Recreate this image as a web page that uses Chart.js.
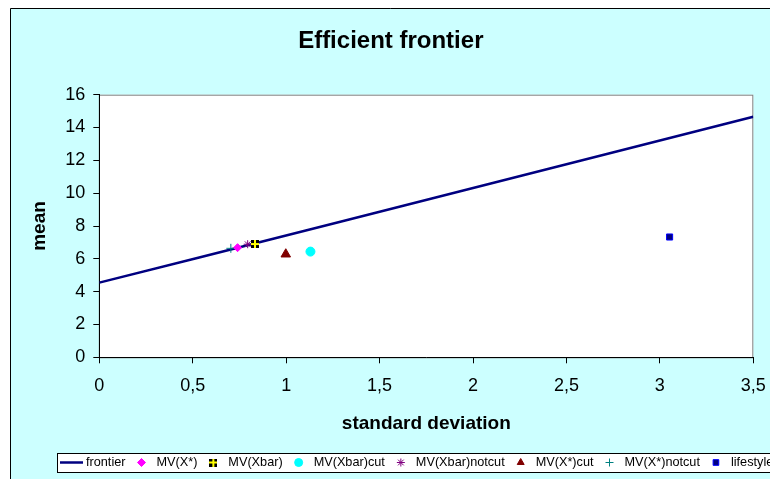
<!DOCTYPE html>
<html>
<head>
<meta charset="utf-8">
<script src="https://cdn.jsdelivr.net/npm/chart.js@4/dist/chart.umd.min.js"></script>
<style>
  html, body { margin: 0; padding: 0; background: #fff; overflow: hidden; }
  #wrap { width: 770px; height: 479px; }
</style>
</head>
<body>
<div id="wrap"><canvas id="frontierChart"></canvas></div>
<script>
// frontier line
const frontierSd = [0, 0.54, 1.29, 3.5];
const frontierMean = [4.55, 6.1, 8.26, 14.66];

// single portfolios
const seriesNames = ['MV(X*)', 'MV(Xbar)', 'MV(Xbar)cut', 'MV(Xbar)notcut', 'MV(X*)cut', 'MV(X*)notcut', 'lifestyle'];
const seriesSd = [0.74, 0.833, 1.13, 0.794, 0.998, 0.704, 3.052];
const seriesMean = [6.68, 6.9, 6.44, 6.89, 6.28, 6.64, 7.33];

// black square with a yellow cross, like the Excel marker
function xbarMarker() {
    const c = document.createElement('canvas');
    c.width = 8; c.height = 8;
    const g = c.getContext('2d');
    g.fillStyle = '#000';
    g.fillRect(0, 0, 8, 8);
    g.fillStyle = '#FFFF00';
    g.fillRect(3, 0, 2, 8);
    g.fillRect(0, 3, 8, 2);
    return c;
}

const markerStyles = [
    { pointStyle: 'rectRot', radius: 4, bg: '#FF00FF', border: '#FF00FF' },
    { pointStyle: xbarMarker(), radius: 4, bg: '#000', border: '#000' },
    { pointStyle: 'circle', radius: 4.5, bg: '#00FFFF', border: '#00FFFF' },
    { pointStyle: 'star', radius: 4, bg: '#CC99FF', border: '#800080' },
    { pointStyle: 'triangle', radius: 5.5, bg: '#800000', border: '#800000' },
    { pointStyle: 'cross', radius: 4.5, bg: '#008080', border: '#008080' },
    { pointStyle: 'rect', radius: 4.3, bg: '#000080', border: '#0000FF' }
];

const datasets = [{
    label: 'frontier',
    data: frontierSd.map((x, i) => ({ x: x, y: frontierMean[i] })),
    showLine: true,
    borderColor: '#000080',
    backgroundColor: '#000080',
    borderWidth: 2.5,
    pointRadius: 0,
    order: 1
}];
seriesNames.forEach((name, i) => {
    const s = markerStyles[i];
    datasets.push({
        label: name,
        data: [{ x: seriesSd[i], y: seriesMean[i] }],
        pointStyle: s.pointStyle,
        pointRadius: s.radius,
        pointHoverRadius: s.radius,
        backgroundColor: s.bg,
        borderColor: s.border,
        borderWidth: 1,
        order: 0
    });
});

const backdrop = {
    id: 'backdrop',
    beforeDraw(chart) {
        const ctx = chart.ctx, a = chart.chartArea;
        ctx.save();
        ctx.fillStyle = '#fff';
        ctx.fillRect(0, 0, chart.width, chart.height);
        ctx.fillStyle = '#CCFFFF';
        ctx.fillRect(10, 8, chart.width, chart.height);
        ctx.strokeStyle = '#000';
        ctx.lineWidth = 1;
        ctx.beginPath();
        ctx.moveTo(10.5, chart.height);
        ctx.lineTo(10.5, 8.5);
        ctx.lineTo(chart.width, 8.5);
        ctx.stroke();
        ctx.fillStyle = '#fff';
        ctx.fillRect(a.left, a.top, a.right - a.left, a.bottom - a.top);
        ctx.strokeStyle = '#808080';
        ctx.strokeRect(a.left, a.top + 0.5, a.right - a.left - 0.5, a.bottom - a.top);
        ctx.restore();
    }
};

const boxLegend = {
    id: 'boxLegend',
    afterDraw(chart) {
        const ctx = chart.ctx;
        const cy = 462.5;
        ctx.save();
        ctx.fillStyle = '#fff';
        ctx.fillRect(57, 453, 760, 19);
        ctx.strokeStyle = '#000';
        ctx.lineWidth = 1;
        ctx.strokeRect(57.5, 453.5, 760, 19);
        ctx.font = '12.7px "Liberation Sans", Arial, sans-serif';
        ctx.textBaseline = 'middle';
        ctx.textAlign = 'left';
        let x = 60;
        chart.data.datasets.forEach((ds) => {
            if (ds.showLine) {
                ctx.strokeStyle = ds.borderColor;
                ctx.lineWidth = ds.borderWidth;
                ctx.beginPath();
                ctx.moveTo(x, cy);
                ctx.lineTo(x + 23, cy);
                ctx.stroke();
                x += 26;
            } else {
                const cx = x + 16;
                ctx.fillStyle = ds.backgroundColor;
                ctx.strokeStyle = ds.borderColor;
                ctx.lineWidth = 1;
                Chart.helpers.drawPoint(ctx, {
                    pointStyle: ds.pointStyle,
                    radius: Math.min(ds.pointRadius, 4),
                    rotation: 0,
                    borderWidth: 1
                }, cx, cy);
                x = cx + 15;
            }
            ctx.fillStyle = '#000';
            ctx.fillText(ds.label, x, cy);
            x += ctx.measureText(ds.label).width;
        });
        ctx.restore();
    }
};

const commaTick = (v) => String(v).replace('.', ',');

new Chart(document.getElementById('frontierChart'), {
    type: 'scatter',
    data: { datasets: datasets },
    options: {
        responsive: true,
        maintainAspectRatio: false,
        animation: false,
        events: [],
        layout: { padding: { left: 28.3, right: 16.7, top: 0, bottom: 44.3 } },
        plugins: {
            legend: { display: false },
            tooltip: { enabled: false },
            title: {
                display: true,
                text: 'Efficient frontier',
                color: '#000',
                font: { family: '"Liberation Sans", Arial, sans-serif', size: 24, weight: 'bold' },
                padding: { top: 26.5, bottom: 39.4 }
            }
        },
        scales: {
            x: {
                type: 'linear',
                min: 0,
                max: 3.5,
                afterFit: (s) => { s.height = 77.4; s.paddingLeft = 0; s.paddingRight = 0; },
                ticks: {
                    stepSize: 0.5,
                    padding: 12,
                    color: '#000',
                    maxRotation: 0,
                    font: { family: '"Liberation Sans", Arial, sans-serif', size: 18 },
                    callback: commaTick
                },
                grid: { drawOnChartArea: false, drawTicks: true, tickLength: 6, color: '#000' },
                border: { color: '#000' },
                title: {
                    display: true,
                    text: 'standard deviation',
                    color: '#000',
                    font: { family: '"Liberation Sans", Arial, sans-serif', size: 19, weight: 'bold' },
                    padding: { top: 3, bottom: 0 }
                }
            },
            y: {
                min: 0,
                max: 16,
                afterFit: (s) => { s.width = 71; },
                ticks: {
                    stepSize: 2,
                    padding: 8,
                    color: '#000',
                    font: { family: '"Liberation Sans", Arial, sans-serif', size: 18 }
                },
                grid: { drawOnChartArea: false, drawTicks: true, tickLength: 6, color: '#000' },
                border: { color: '#000' },
                title: {
                    display: true,
                    text: 'mean',
                    color: '#000',
                    font: { family: '"Liberation Sans", Arial, sans-serif', size: 19, weight: 'bold' },
                    padding: { top: 0.3, bottom: 0 }
                }
            }
        }
    },
    plugins: [backdrop, boxLegend]
});
</script>
</body>
</html>
